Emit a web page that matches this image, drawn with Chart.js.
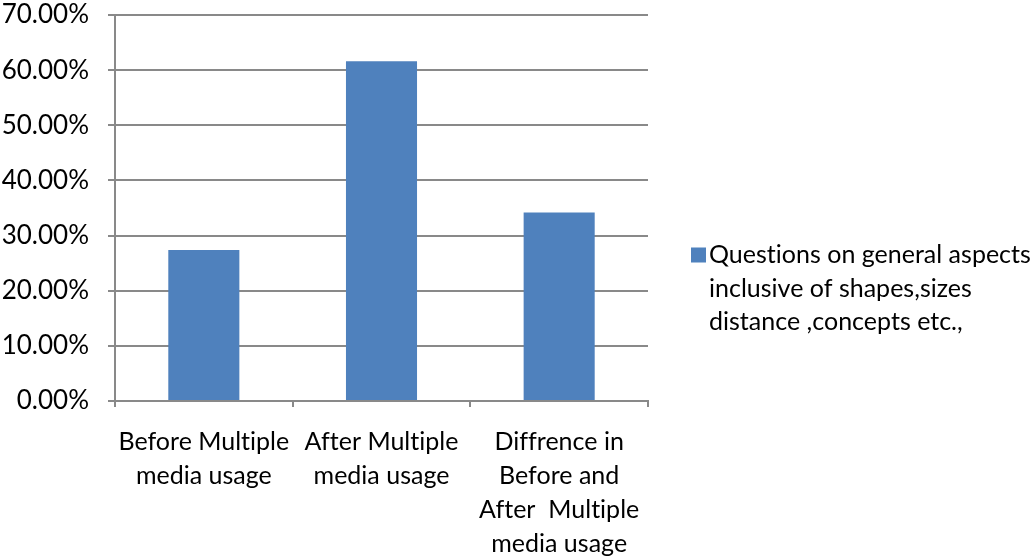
<!DOCTYPE html>
<html>
<head>
<meta charset="utf-8">
<script src="https://cdn.jsdelivr.net/npm/chart.js@4.4.1/dist/chart.umd.min.js"></script>
<style>
  html, body { margin: 0; padding: 0; background: #ffffff; }
  #wrap { position: relative; width: 1035px; height: 557px; }
</style>
</head>
<body>
<div id="wrap"><canvas id="chart" width="1035" height="557"></canvas></div>
<script>
// Categories (multi-line labels under each bar)
const categories = [
  ["Before Multiple", "media usage"],
  ["After Multiple", "media usage"],
  ["Diffrence in", "Before and", "After  Multiple", "media usage"]
];
// Percentages for the single series
const seriesName = ["Questions on general aspects", "inclusive of shapes,sizes", "distance ,concepts etc.,"];
const seriesValues = [27.4, 61.6, 34.2];
// Value axis range and step (in percent)
const yMin = 0;
const yMax = 70;
const yStep = 10;

const FONT = "Lato, 'Open Sans', sans-serif";
const FONT_SIZE = 25;
const BLUE = "#4F81BD";
const GRID = "#898989";

// Plain letter forms (no "ti" ligatures) for all canvas text
const plainText = {
  id: "plainText",
  beforeDraw(chart) {
    if ("letterSpacing" in chart.ctx) chart.ctx.letterSpacing = "0.01px";
  }
};

// Draws the right-hand legend with its wrapped label
const sideLegend = {
  id: "sideLegend",
  afterDraw(chart) {
    const ctx = chart.ctx;
    const ds = chart.data.datasets[0];
    const lines = ds.label;
    const x0 = 691, y0 = 255, lh = 33.5;
    ctx.save();
    if ("letterSpacing" in ctx) ctx.letterSpacing = "0.01px";
    ctx.fillStyle = ds.backgroundColor;
    ctx.fillRect(x0, y0 - 7.5, 15, 15);
    ctx.fillStyle = "#000000";
    ctx.font = FONT_SIZE + "px " + FONT;
    ctx.textBaseline = "middle";
    ctx.textAlign = "left";
    lines.forEach((t, i) => ctx.fillText(t, x0 + 18, y0 + i * lh));
    ctx.restore();
  }
};

new Chart(document.getElementById("chart"), {
  type: "bar",
  data: {
    labels: categories,
    datasets: [{
      label: seriesName,
      data: seriesValues,
      backgroundColor: BLUE,
      borderWidth: 0,
      barPercentage: 0.4,
      categoryPercentage: 1.0
    }]
  },
  options: {
    responsive: false,
    animation: false,
    devicePixelRatio: 1,
    layout: { padding: { top: 3, right: 387, left: 0, bottom: 0 } },
    plugins: {
      legend: { display: false },
      tooltip: { enabled: false }
    },
    scales: {
      x: {
        afterFit(scale) { scale.height = 156; },
        grid: {
          offset: true,
          drawOnChartArea: false,
          drawTicks: true,
          tickLength: 6,
          color: GRID,
          lineWidth: 2
        },
        border: { display: true, color: GRID, width: 2 },
        ticks: {
          color: "#000000",
          font: { family: FONT, size: FONT_SIZE, lineHeight: 1.36 },
          padding: 18,
          maxRotation: 0,
          autoSkip: false
        }
      },
      y: {
        min: yMin,
        max: yMax,
        afterFit(scale) {
          scale.width = 115;
          scale.paddingTop = 15;
          scale.paddingBottom = 0;
        },
        grid: {
          drawTicks: true,
          tickLength: 7,
          color: GRID,
          lineWidth: 2
        },
        border: { display: true, color: GRID, width: 2 },
        ticks: {
          stepSize: yStep,
          color: "#000000",
          font: { family: FONT, size: 26 },
          padding: 19,
          callback: (v) => v.toFixed(2) + "%"
        }
      }
    }
  },
  plugins: [plainText, sideLegend]
});
</script>
</body>
</html>
